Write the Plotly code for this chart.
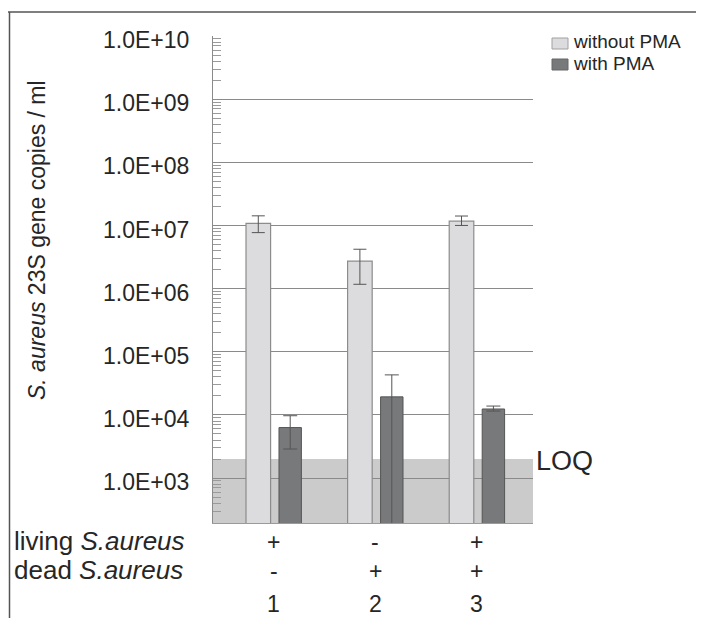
import plotly.graph_objects as go

# ---------------- data ----------------
CATEGORIES = [1, 2, 3]
CATEGORY_LABELS = ["1", "2", "3"]
LIVING = ["+", "-", "+"]
DEAD = ["-", "+", "+"]

WITHOUT_PMA = [1.08e7, 2.72e6, 1.17e7]
WITHOUT_PMA_ERR_PLUS = [3.4e6, 1.48e6, 2.4e6]
WITHOUT_PMA_ERR_MINUS = [3.1e6, 1.55e6, 1.7e6]

WITH_PMA = [6.3e3, 1.93e4, 1.24e4]
WITH_PMA_ERR_PLUS = [3.4e3, 2.37e4, 1.4e3]
WITH_PMA_ERR_MINUS = [3.42e3, 1.925e4, 0.9e3]

LOQ = 2.0e3

Y_TICK_VALUES = [1e3, 1e4, 1e5, 1e6, 1e7, 1e8, 1e9, 1e10]
Y_TICK_LABELS = ["1.0E+03", "1.0E+04", "1.0E+05", "1.0E+06",
                 "1.0E+07", "1.0E+08", "1.0E+09", "1.0E+10"]
Y_LOG_RANGE = [2.288, 10]

# ---------------- style ----------------
FONT = "Liberation Sans, Arial, sans-serif"
TXT = "#262626"
GRID = "#8a8a8a"
LIGHT = "#dcdcde"
DARK = "#78797b"

OFF = 8  # default page body margin
W, H = 704 - OFF, 618 - OFF
# plot area in screen pixels: x 213..533, y 36..523
SX0, SX1, SY0, SY1 = 213, 533, 36, 523
L, T = SX0 - OFF, SY0 - OFF
R, B = W - (SX1 - OFF), H - (SY1 - OFF)
PW, PH = SX1 - SX0, SY1 - SY0


def px2x(px):
    return (px - SX0) / PW


def py2y(py):
    return (SY1 - py) / PH


# minor tick positions (2..9 per decade) – axis configuration
MINOR_TICKS = [d * 10 ** e for e in range(2, 10) for d in range(2, 10)]

fig = go.Figure()

fig.add_trace(go.Bar(
    name="without PMA", x=CATEGORIES, y=WITHOUT_PMA,
    offset=-0.2707, width=0.242,
    marker=dict(color=LIGHT, line=dict(color="#8c8c8c", width=1.2)),
    error_y=dict(type="data", symmetric=False, array=WITHOUT_PMA_ERR_PLUS,
                 arrayminus=WITHOUT_PMA_ERR_MINUS, color="#555555",
                 thickness=1, width=6.5),
    showlegend=False,
))
fig.add_trace(go.Bar(
    name="with PMA", x=CATEGORIES, y=WITH_PMA,
    offset=0.054, width=0.2205,
    marker=dict(color=DARK, line=dict(color="#555555", width=1)),
    error_y=dict(type="data", symmetric=False, array=WITH_PMA_ERR_PLUS,
                 arrayminus=WITH_PMA_ERR_MINUS, color="#555555",
                 thickness=1, width=7),
    showlegend=False,
))

shapes = []
# LOQ band
shapes.append(dict(type="rect", xref="x domain", yref="y",
                   x0=0, x1=1, y0=10 ** Y_LOG_RANGE[0], y1=LOQ,
                   fillcolor="#cbcbcb", line=dict(width=0), layer="below"))
# outer frame lines
shapes.append(dict(type="line", xref="paper", yref="paper",
                   x0=px2x(8), x1=px2x(704), y0=py2y(12), y1=py2y(12),
                   line=dict(color="#555555", width=1.5)))
shapes.append(dict(type="line", xref="paper", yref="paper",
                   x0=px2x(9.5), x1=px2x(9.5), y0=py2y(12), y1=py2y(618),
                   line=dict(color="#555555", width=1.5)))
# legend squares
shapes.append(dict(type="rect", xref="paper", yref="paper",
                   x0=px2x(552), x1=px2x(568), y0=py2y(38), y1=py2y(49),
                   fillcolor=LIGHT, line=dict(color="#a0a0a0", width=1)))
shapes.append(dict(type="rect", xref="paper", yref="paper",
                   x0=px2x(552), x1=px2x(568), y0=py2y(59), y1=py2y(70),
                   fillcolor=DARK, line=dict(color="#666666", width=1)))

ann = []
# legend text
for label, cy in [("without PMA", 42), ("with PMA", 64)]:
    ann.append(dict(text=label, xref="paper", yref="paper", x=px2x(571), y=py2y(cy),
                    xanchor="left", yanchor="middle", showarrow=False,
                    font=dict(family=FONT, size=19, color=TXT)))
# y axis title
ann.append(dict(text="<i>S. aureus</i> 23S gene copies / ml", xref="paper", yref="paper",
                x=px2x(37), y=py2y(240), textangle=-90, xanchor="center", yanchor="middle",
                showarrow=False, font=dict(family=FONT, size=23, color=TXT)))
# LOQ label
ann.append(dict(text="LOQ", xref="paper", yref="paper", x=px2x(534), y=py2y(461),
                xanchor="left", yanchor="middle", showarrow=False,
                font=dict(family=FONT, size=27, color=TXT)))
# row labels
for label, cy in [("living <i>S.aureus</i>", 541), ("dead <i>S.aureus</i>", 570)]:
    ann.append(dict(text=label, xref="paper", yref="paper", x=px2x(12), y=py2y(cy),
                    xanchor="left", yanchor="middle", showarrow=False,
                    font=dict(family=FONT, size=26, color=TXT)))
# +/- and numbers
for c, lv, dd, nm in zip(CATEGORIES, LIVING, DEAD, CATEGORY_LABELS):
    for txt, cy in [(lv, 542), (dd, 571), (nm, 604)]:
        ann.append(dict(text=txt, xref="x", yref="paper", x=c, y=py2y(cy),
                        xanchor="center", yanchor="middle", showarrow=False,
                        font=dict(family=FONT, size=23, color=TXT)))

fig.update_layout(
    width=W, height=H,
    margin=dict(l=L, r=R, t=T, b=B, pad=0),
    paper_bgcolor="white", plot_bgcolor="white",
    barmode="overlay",
    shapes=shapes, annotations=ann,
    showlegend=False,
    font=dict(family=FONT, color=TXT),
)
fig.update_xaxes(range=[0.4045, 3.554], showticklabels=False, ticks="",
                 showgrid=False, zeroline=False, showline=True,
                 linecolor="#9a9a9a", linewidth=1.2)
fig.update_yaxes(type="log", range=Y_LOG_RANGE, tickvals=Y_TICK_VALUES,
                 ticktext=Y_TICK_LABELS, tickfont=dict(family=FONT, size=23, color=TXT),
                 showgrid=True, gridcolor=GRID, gridwidth=1,
                 showline=True, linecolor=GRID, linewidth=1.2,
                 ticks="inside", ticklen=9, tickcolor=GRID,
                 ticklabelstandoff=18, ticklabelshift=4,
                 minor=dict(ticks="inside", ticklen=8, tickcolor="#9a9a9a",
                            tickmode="array", tickvals=MINOR_TICKS, showgrid=False),
                 zeroline=False)

fig.write_html("out.html")
